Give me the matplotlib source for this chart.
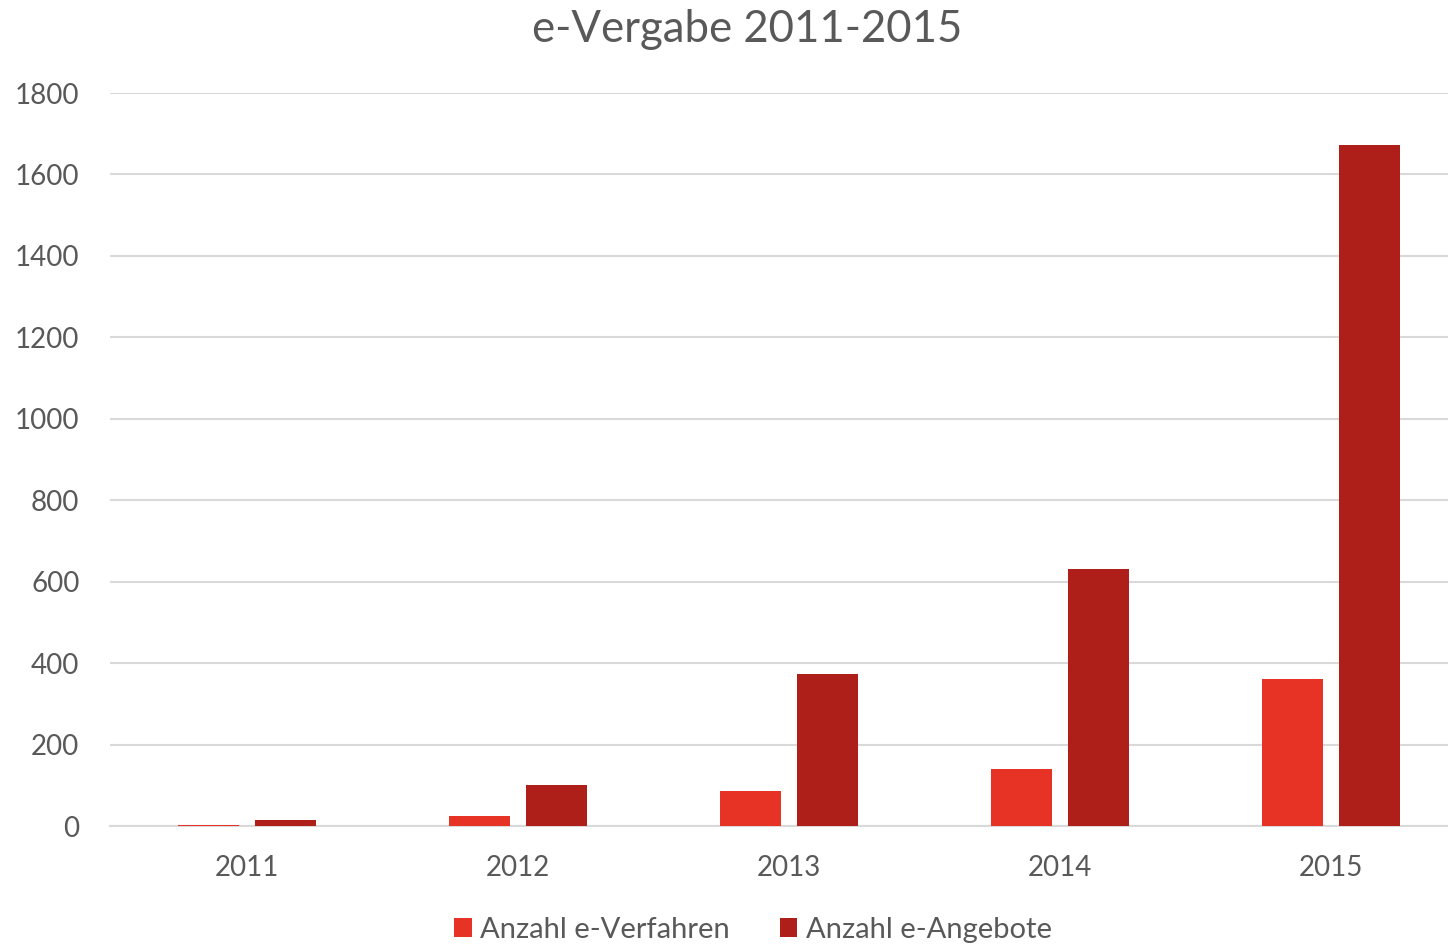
import matplotlib
matplotlib.use("Agg")
import matplotlib.pyplot as plt
import numpy as np

years = ["2011", "2012", "2013", "2014", "2015"]
verfahren = [3, 25, 86, 139, 362]
angebote = [14, 100, 374, 631, 1672]
yticks = [0, 200, 400, 600, 800, 1000, 1200, 1400, 1600, 1800]

plt.rcParams['font.family'] = ['Lato', 'DejaVu Sans']

W, H = 1448, 947
fig = plt.figure(figsize=(W / 100, H / 100), dpi=100)
ax = fig.add_axes([110 / W, 1 - 826 / H, (1448 - 110) / W, (826 - 93) / H])

x = np.arange(len(years))
bw = 0.222
off = 0.142
c1 = "#E63325"
c2 = "#AF1F19"
ax.bar(x - off, verfahren, bw, color=c1, label="Anzahl e-Verfahren", zorder=3)
ax.bar(x + off, angebote, bw, color=c2, label="Anzahl e-Angebote", zorder=3)

ax.set_xlim((110 - 247) / 271, (1448 - 247) / 271)
ax.set_ylim(0, 1800)
ax.set_yticks(yticks)
ax.set_xticks(x)
ax.set_xticklabels(years)
ax.grid(axis="y", color="#D9D9D9", linewidth=1.5, zorder=0)
for s in ["top", "right", "left"]:
    ax.spines[s].set_visible(False)
ax.spines["bottom"].set_color("#D9D9D9")
ax.spines["bottom"].set_linewidth(1.5)
ax.tick_params(axis="both", length=0, labelsize=20, colors="#595959")
ax.tick_params(axis="y", pad=22)
ax.tick_params(axis="x", pad=21)

fig.text(747 / W, 1 - 30 / H, "e-Vergabe 2011-2015", ha="center", va="center",
         fontsize=31.5, color="#595959")

leg = fig.legend(loc="center", bbox_to_anchor=(753 / W, 1 - 930 / H), ncol=2,
                 frameon=False, fontsize=21, labelcolor="#595959",
                 handlelength=0.6, handleheight=0.6, handletextpad=0.3,
                 columnspacing=1.7)

fig.savefig("out.png", dpi=100)
